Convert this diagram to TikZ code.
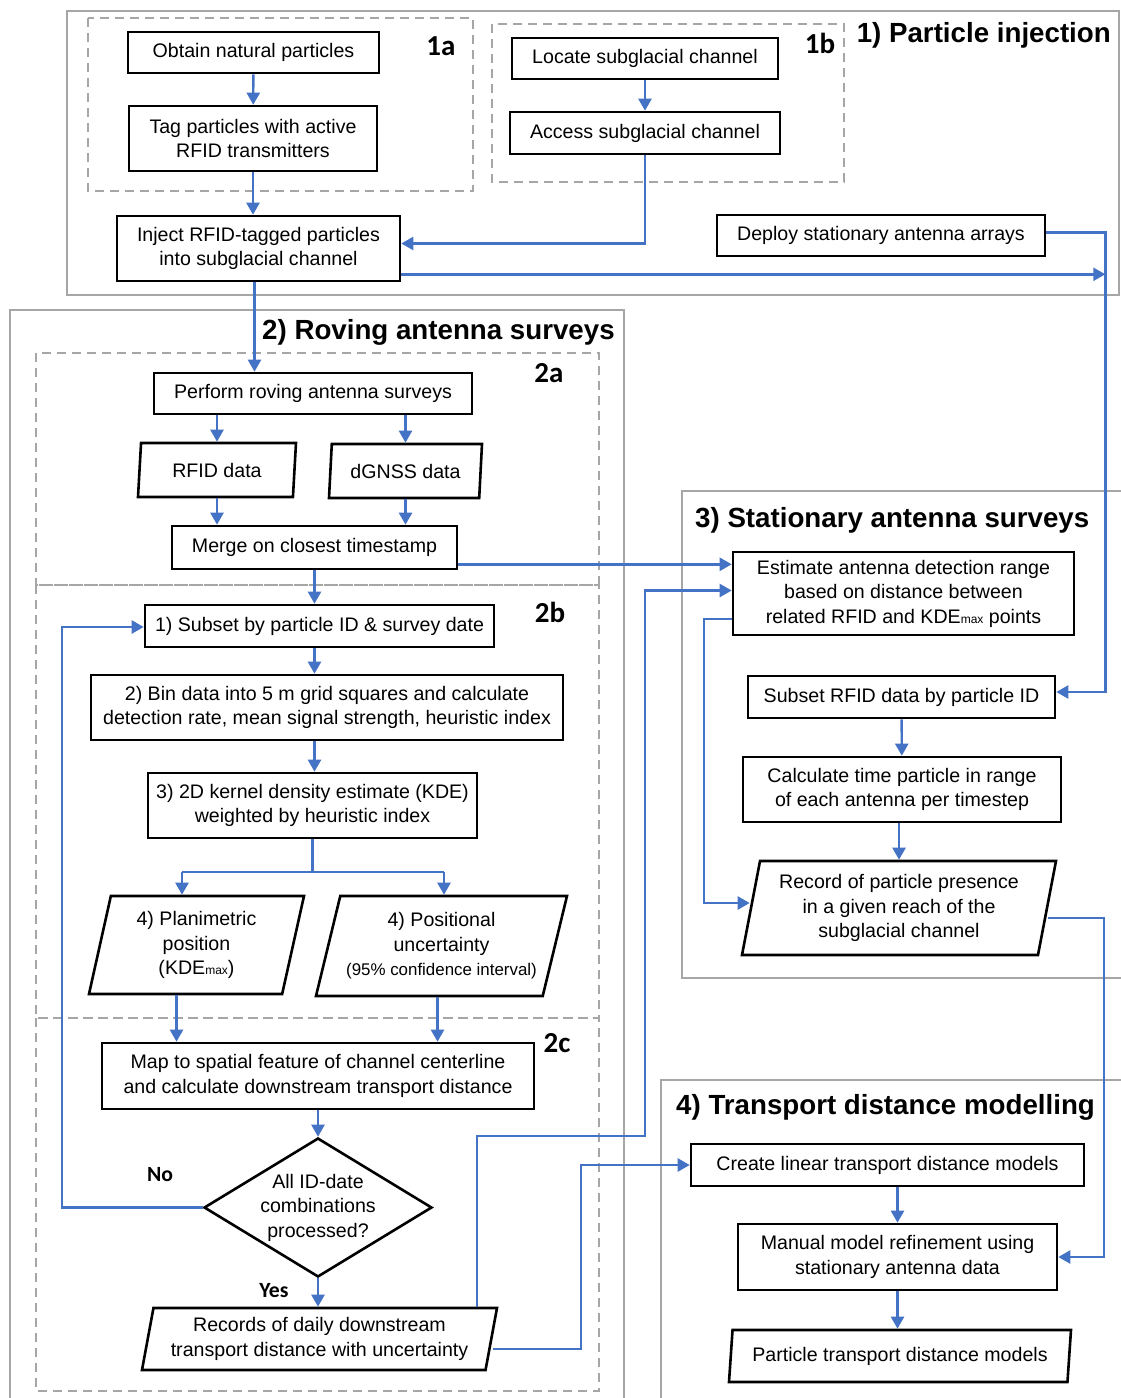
\documentclass[tikz,border=0pt]{standalone}
\usepackage{fontspec}
\setmainfont{Liberation Sans}
\newfontfamily\partfont{Carlito}
\usetikzlibrary{arrows.meta,shapes.geometric}
\definecolor{flowblue}{HTML}{4472C4}
\definecolor{framegray}{HTML}{A6A6A6}

\begin{document}
\begin{tikzpicture}[x=1pt,y=-1pt,
  every node/.style={font=\fontsize{19.6}{24.5}\selectfont},
  box/.style={draw,line width=2.6pt,inner sep=0pt,align=center},
  io/.style={box,trapezium,trapezium stretches body,trapezium left angle=#1,trapezium right angle={\the\numexpr180-#1\relax}},
  stage/.style={draw=framegray,line width=2.4pt},
  substage/.style={draw=framegray,line width=2.2pt,dash pattern=on 9pt off 6pt},
  heading/.style={font=\fontsize{27.7}{30}\selectfont\bfseries,inner sep=0pt},
  partlabel/.style={font=\fontsize{29}{30}\selectfont\partfont\bfseries,inner sep=0pt},
  flow/.style={flowblue,line width=2.4pt,-{Triangle[length=12pt,width=13pt]}},
  link/.style={flowblue,line width=2.4pt}]
  \useasboundingbox (0,0) rectangle (1121,1398);

  \draw[stage] (67,11) rectangle (1119,295);
  \draw[stage] (10,1398) |- (624,310) -- (624,1398);
  \draw[stage] (1121,491) -| (682,978) -- (1121,978);
  \draw[stage] (661,1398) |- (1121,1080);
  \draw[substage] (88,18) rectangle (473,191);
  \draw[substage] (492,24) rectangle (844,182);
  \draw[substage] (36,353) rectangle (599,585);
  \draw[substage] (36,585) rectangle (599,1018);
  \draw[substage] (36,1018) rectangle (599,1391);

  \node[heading,anchor=base east] (h1) at (1111,42) {1) Particle injection};
  \node[heading,anchor=base west] (h2) at (262,339) {2) Roving antenna surveys};
  \node[heading,anchor=base west] (h3) at (695,527) {3) Stationary antenna surveys};
  \node[heading,anchor=base west] (h4) at (676,1114) {4) Transport distance modelling};
  \node[partlabel,anchor=base] (p1a) at (441,55) {1a};
  \node[partlabel,anchor=base] (p1b) at (820,53) {1b};
  \node[partlabel,anchor=base] (p2a) at (549,382) {2a};
  \node[partlabel,anchor=base] (p2b) at (550,622) {2b};
  \node[partlabel,anchor=base] (p2c) at (557,1052) {2c};
  \node[partlabel,font=\fontsize{21.7}{24}\selectfont\partfont\bfseries,anchor=base] (no) at (160,1181) {No};
  \node[partlabel,font=\fontsize{21.7}{24}\selectfont\partfont\bfseries,anchor=base] (yes) at (274,1297) {Yes};

  \node[box,minimum width=251pt,minimum height=41pt] (obtain) at (253.5,52.5) {Obtain natural particles};
  \node[box,minimum width=248pt,minimum height=65pt] (tag) at (253,138.5) {Tag particles with active\\RFID transmitters};
  \node[box,minimum width=283pt,minimum height=65pt] (inject) at (258.5,248.5) {Inject RFID-tagged particles\\into subglacial channel};
  \node[box,minimum width=266pt,minimum height=41pt] (locate) at (645,58.5) {Locate subglacial channel};
  \node[box,minimum width=270pt,minimum height=42pt] (access) at (645,133) {Access subglacial channel};
  \node[box,minimum width=328pt,minimum height=41pt] (deploy) at (881,235.5) {Deploy stationary antenna arrays};
  \node[box,minimum width=318pt,minimum height=41pt] (perform) at (313,393.5) {Perform roving antenna surveys};
  \node[io=78,minimum width=158pt,minimum height=54pt] (rfid) at (217,470) {RFID data};
  \node[io=79,minimum width=153pt,minimum height=54pt] (dgnss) at (405.5,471) {dGNSS data};
  \node[box,minimum width=285pt,minimum height=43pt] (merge) at (314.5,547.5) {Merge on closest timestamp};
  \node[box,minimum width=349pt,minimum height=42pt] (subset) at (319.5,626) {1) Subset by particle ID \& survey date};
  \node[box,minimum width=472pt,minimum height=65pt] (bin) at (327,707.5) {2) Bin data into 5 m grid squares and calculate\\detection rate, mean signal strength, heuristic index};
  \node[box,minimum width=329pt,minimum height=65pt] (kde) at (312.5,805.5) {3) 2D kernel density estimate (KDE)\\weighted by heuristic index};
  \node[io=72,minimum width=215pt,minimum height=98pt] (planim) at (196.5,945) {4) Planimetric\\position\\(KDE{\fontsize{12}{12}\selectfont max})};
  \node[io=70,minimum width=251pt,minimum height=100pt] (posit) at (441.5,946) {4) Positional\\uncertainty\\{\fontsize{16.9}{20}\selectfont (95\% confidence interval)}};
  \node[box,minimum width=432pt,minimum height=66pt] (map) at (318,1076) {Map to spatial feature of channel centerline\\and calculate downstream transport distance};
  \node[box,diamond,aspect=1.64,minimum width=228pt,minimum height=139pt] (check) at (318,1207.5) {All ID-date\\combinations\\processed?};
  \node[io=75,minimum width=355pt,minimum height=62pt] (records) at (319.5,1339) {Records of daily downstream\\transport distance with uncertainty};
  \node[box,minimum width=341pt,minimum height=83pt] (estimate) at (903.5,593.5) {Estimate antenna detection range\\based on distance between\\related RFID and KDE{\fontsize{12}{12}\selectfont max} points};
  \node[box,minimum width=307pt,minimum height=42pt] (subrfid) at (901.5,697) {Subset RFID data by particle ID};
  \node[box,minimum width=318pt,minimum height=65pt] (calc) at (902,789.5) {Calculate time particle in range\\of each antenna per timestep};
  \node[io=75,minimum width=314pt,minimum height=94pt] (presence) at (899,908) {Record of particle presence\\in a given reach of the\\subglacial channel};
  \node[box,minimum width=393pt,minimum height=42pt] (create) at (887.5,1165) {Create linear transport distance models};
  \node[box,minimum width=319pt,minimum height=66pt] (manual) at (897.5,1257) {Manual model refinement using\\stationary antenna data};
  \node[io=79,minimum width=342pt,minimum height=52pt] (models) at (900,1356) {Particle transport distance models};

  \coordinate (forkl) at (182,872);
  \coordinate (forkr) at (444,872);
  \coordinate (loop) at (62,900);
  \coordinate (jog1) at (477,1136);
  \coordinate (jog2) at (645,1136);
  \coordinate (jog3) at (581,1349);
  \coordinate (jog4) at (704,619);
  \coordinate (jog5) at (1104,918);

  \path[flow]
  (obtain) edge (tag)
  (tag.south) edge (tag.south |- inject.north)
  (locate) edge (access)
  ([xshift=-4pt]inject.south) edge ([xshift=-4pt]inject.south |- perform.north)
  (rfid.north |- perform.south) edge (rfid.north)
  (dgnss.north |- perform.south) edge (dgnss.north)
  (rfid.south) edge (rfid.south |- merge.north)
  (dgnss.south) edge (dgnss.south |- merge.north)
  (merge.south) edge (merge.south |- subset.north)
  (subset.south -| merge.south) edge (bin.north -| merge.south)
  (bin.south -| merge.south) edge (kde.north -| merge.south)
  (forkl) edge (forkl |- planim.north)
  (forkr) edge (forkr |- posit.north)
  ([xshift=-20pt]planim.south) edge ([xshift=-20pt]planim.south |- map.north)
  ([xshift=-4pt]posit.south) edge ([xshift=-4pt]posit.south |- map.north)
  (map) edge (check)
  (check.south) edge (check.south |- records.north)
  (subrfid) edge (calc)
  (presence.north |- calc.south) edge (presence.north)
  (manual.north |- create.south) edge (manual.north)
  (manual.south) edge (manual.south |- models.north);

  \draw[link] (kde.south) -- (kde.south |- forkl);
  \draw[link] (forkl) -- (forkr);
  \draw[flow] (access.south) |- ([yshift=5pt]inject.east);
  \draw[flow] ([yshift=3pt]deploy.east) -- ++(59,0) coordinate (rail) |- ([yshift=5pt]subrfid.east);
  \draw[flow] ([yshift=8pt]inject.south east) -- ([yshift=8pt]inject.south east -| rail);
  \draw[flow] ([yshift=6pt]merge.south east) -- ([yshift=6pt]merge.south east -| estimate.west);
  \draw[flow] (check.west) -| (loop) |- ([yshift=-1pt]subset.west);
  \draw[flow] (records.north -| jog1) -- (jog1) -- (jog2) |- ([yshift=3pt]estimate.west);
  \draw[flow] (records.east |- jog3) -- (jog3) |- (create.west);
  \draw[flow] (estimate.west |- jog4) -- (jog4) |- ([yshift=5pt]presence.west);
  \draw[flow] (presence.east |- jog5) -- (jog5) |- (manual.east);
\end{tikzpicture}
\end{document}
